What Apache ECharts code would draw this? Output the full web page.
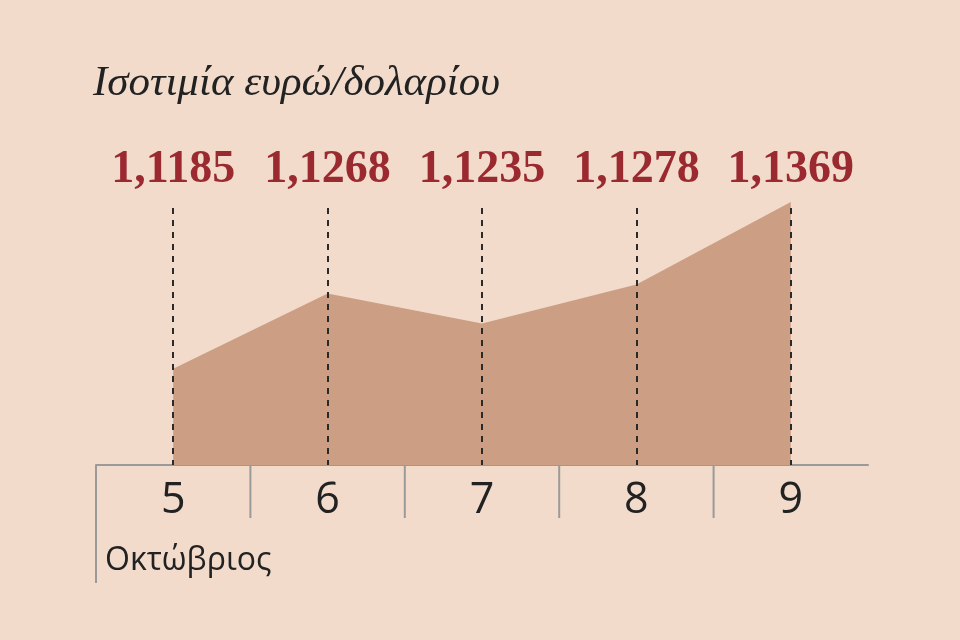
<!DOCTYPE html>
<html>
<head>
<meta charset="utf-8">
<script src="https://cdn.jsdelivr.net/npm/echarts@6/dist/echarts.min.js"></script>
<style>
html,body{margin:0;padding:0;background:#F2DBCB;}
#c{width:960px;height:640px;}
</style>
</head>
<body>
<div id="c"></div>
<script>
const categories = ['5', '6', '7', '8', '9'];
const rates = [1.1185, 1.1268, 1.1235, 1.1278, 1.1369];
const titleText = 'Ισοτιμία ευρώ/δολαρίου';
const monthText = 'Οκτώβριος';

const Y_MIN = 1.1079;
const Y_MAX = 1.1369;
const fmt = v => v.toFixed(4).replace('.', ',');

const chart = echarts.init(document.getElementById('c'));
chart.setOption({
  backgroundColor: '#F2DBCB',
  animation: false,
  title: [
    {
      text: titleText,
      left: 88, top: 57,
      textStyle: { fontFamily: 'Liberation Serif', fontStyle: 'italic', fontWeight: 'normal', fontSize: 43, color: '#222' }
    },
    {
      text: monthText,
      left: 100, top: 540,
      textStyle: { fontFamily: 'Open Sans', fontWeight: 'normal', fontSize: 32, color: '#222' }
    }
  ],
  grid: { left: 96, right: 92, top: 202, bottom: 175 },
  xAxis: {
    type: 'category', data: categories, boundaryGap: true,
    axisLine: { show: true, lineStyle: { color: '#9a9a9a', width: 2 } },
    axisTick: { show: false },
    axisLabel: { fontFamily: 'Open Sans', fontSize: 43, color: '#222', margin: 14 },
    splitLine: { show: false }
  },
  yAxis: { type: 'value', min: Y_MIN, max: Y_MAX, show: false },
  series: [
    {
      type: 'line',
      data: rates, symbol: 'none', silent: true,
      lineStyle: { width: 0 },
      areaStyle: { color: '#CC9E84', opacity: 1 },
      markLine: {
        silent: true, symbol: 'none', animation: false,
        lineStyle: { color: '#2a2a2a', width: 2, type: [6, 6], dashOffset: 1 },
        label: {
          show: true, position: 'end', distance: 9,
          fontFamily: 'Liberation Serif', fontWeight: 'bold', fontSize: 46, color: '#9A2A30'
        },
        data: categories.map((c, i) => ({ xAxis: c, label: { formatter: fmt(rates[i]) } }))
      }
    },
    {
      // category boundary ticks below the axis (first one longer, framing the month label)
      type: 'custom', silent: true, clip: false,
      data: categories.map((c, i) => [i]),
      renderItem: function (params, api) {
        const idx = api.value(0);
        const band = api.size([1, 0])[0];
        const p = api.coord([idx, Y_MIN]);
        const x = p[0] - band / 2;
        const len = idx === 0 ? 118 : 53;
        return {
          type: 'line',
          shape: { x1: x, y1: p[1], x2: x, y2: p[1] + len },
          style: { stroke: '#9a9a9a', lineWidth: 2 }
        };
      }
    }
  ]
});
</script>
</body>
</html>
